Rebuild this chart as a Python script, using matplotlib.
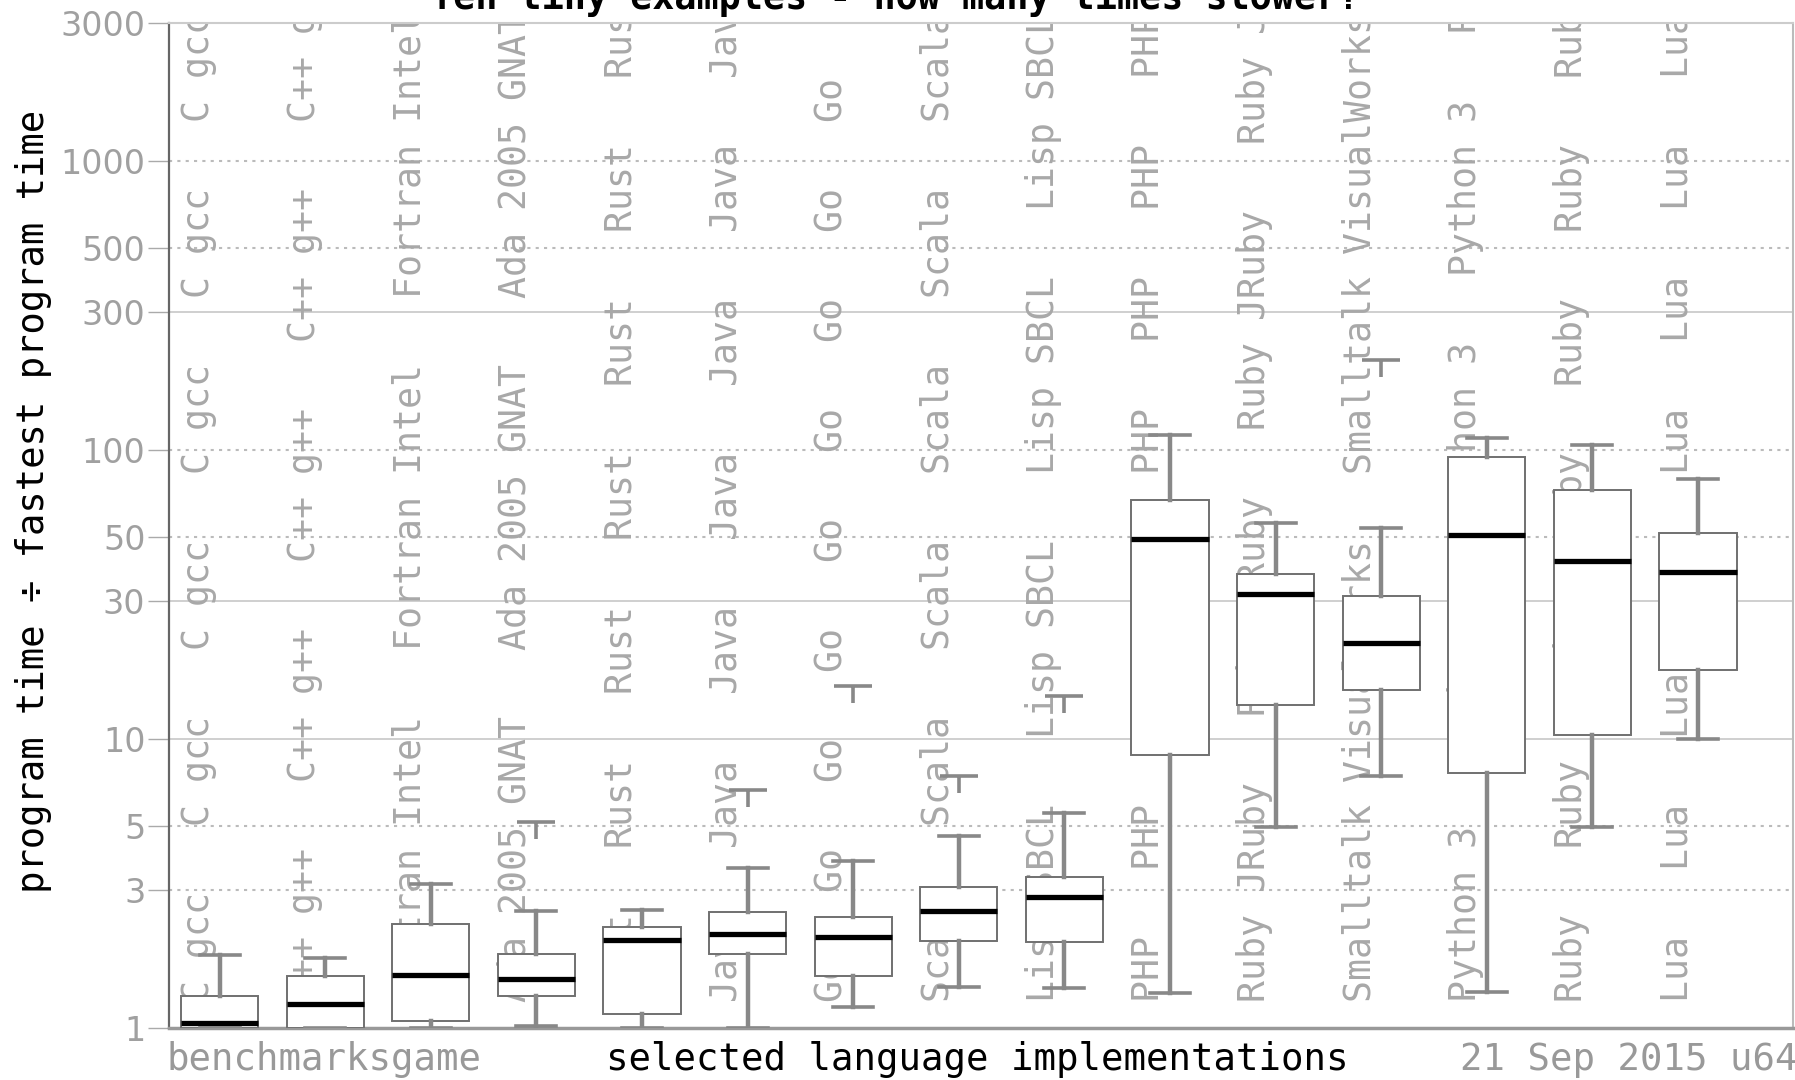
import matplotlib
matplotlib.use("Agg")
import matplotlib.pyplot as plt
import matplotlib.transforms as mtransforms
from matplotlib.path import Path
from matplotlib.ticker import NullLocator, FixedLocator, FixedFormatter

# language implementations, left to right
languages = ["C gcc", "C++ g++", "Fortran Intel", "Ada 2005 GNAT", "Rust", "Java", "Go",
             "Scala", "Lisp SBCL", "PHP", "Ruby JRuby", "Smalltalk VisualWorks",
             "Python 3", "Ruby", "Lua"]

# program time / fastest program time (box plot stats)
whislo = [1.0, 1.0, 1.0, 1.02, 1.0, 1.0, 1.18, 1.39, 1.38, 1.32, 4.96, 7.43, 1.33, 4.94, 10.0]
q1 = [1.0, 1.0, 1.06, 1.29, 1.12, 1.80, 1.51, 2.0, 1.98, 8.8, 13.1, 14.8, 7.6, 10.3, 17.3]
med = [1.04, 1.21, 1.53, 1.48, 2.02, 2.12, 2.07, 2.53, 2.84, 49.1, 31.7, 21.5, 50.7, 41.3, 37.9]
q3 = [1.29, 1.51, 2.29, 1.81, 2.23, 2.51, 2.43, 3.07, 3.33, 67.0, 37.2, 31.2, 94.9, 72.9, 51.8]
whishi = [1.79, 1.74, 3.16, 2.53, 2.56, 3.58, 3.77, 4.63, 5.55, 113.0, 55.8, 53.8, 110.0, 104.0, 79.6]
outliers = [[], [], [], [5.16], [], [6.66], [15.3], [7.43], [14.1], [], [], [205.0], [], [], []]

ytick_vals = [1, 3, 5, 10, 30, 50, 100, 300, 500, 1000, 3000]
solid_grid = [10, 30, 300]

mono = "DejaVu Sans Mono"
W, H = 1795, 1080

fig = plt.figure(figsize=(W / 100, H / 100), dpi=100)
ax = fig.add_axes([169 / W, 1 - 1028 / H, (1793 - 169) / W, (1028 - 23) / H])
ax.set_yscale("log")
ax.set_ylim(1, 3000)
ax.set_xlim(0.521, 15.9)

# grid lines
for v in ytick_vals[1:-1]:
    if v in solid_grid:
        ax.axhline(v, color="#cccccc", lw=1.3, zorder=0.5)
    else:
        ax.axhline(v, color="#bbbbbb", lw=1.5, ls=(0, (1.5, 2.5)), zorder=0.5)

# repeated background labels
trans = mtransforms.blended_transform_factory(ax.transData, ax.transAxes)
for i, name in enumerate(languages):
    s = (name + "   ") * 10
    ax.text(i + 1 - 0.2, 0.026, s, transform=trans, rotation=90, ha="center", va="bottom",
            family=mono, fontsize=26.3, color="#a8a8a8", clip_on=True, zorder=1)

# T-shaped outlier marker
tee = Path([(-1, 0), (1, 0), (0, 0), (0, -0.9)],
           [Path.MOVETO, Path.LINETO, Path.MOVETO, Path.LINETO])

stats = []
for i, name in enumerate(languages):
    stats.append({"label": name, "whislo": whislo[i], "q1": q1[i], "med": med[i],
                  "q3": q3[i], "whishi": whishi[i], "fliers": outliers[i]})

ax.bxp(stats, positions=list(range(1, len(languages) + 1)), widths=0.73,
       patch_artist=True, capwidths=0.38, zorder=3,
       boxprops=dict(facecolor="white", edgecolor="#707070", linewidth=1.4),
       medianprops=dict(color="black", linewidth=3.8),
       whiskerprops=dict(color="#888888", linewidth=3.2),
       capprops=dict(color="#888888", linewidth=2.6),
       flierprops=dict(marker=tee, markersize=27, markeredgecolor="#888888",
                       markerfacecolor="none", markeredgewidth=2.6, linestyle="none"))

ax.set_xticks([])
ax.yaxis.set_major_locator(FixedLocator(ytick_vals))
ax.yaxis.set_major_formatter(FixedFormatter([str(v) for v in ytick_vals]))
ax.yaxis.set_minor_locator(NullLocator())
ax.tick_params(axis="y", length=15, width=1, color="#aaaaaa", labelcolor="#a0a0a0",
               labelsize=24, pad=2)

ax.spines["left"].set_color("#666666")
ax.spines["left"].set_linewidth(1.6)
ax.spines["bottom"].set_color("#999999")
ax.spines["bottom"].set_linewidth(2.5)
ax.spines["top"].set_color("#cccccc")
ax.spines["top"].set_linewidth(1.5)
ax.spines["right"].set_color("#bbbbbb")
ax.spines["right"].set_linewidth(1.5)

# texts
fig.text(896 / W, 1 - 9 / H, "Ten tiny examples - how many times slower?", ha="center",
         va="baseline", family=mono, fontsize=26.5, fontweight="bold", color="black")
fig.text(34 / W, 1 - 501 / H, "program time \u00f7 fastest program time", rotation=90,
         ha="center", va="center", family=mono, fontsize=26.8, color="black")
fig.text(166 / W, 1 - 1059 / H, "benchmarksgame", ha="left", va="center",
         family=mono, fontsize=26.9, color="#999999")
fig.text(977 / W, 1 - 1059 / H, "selected language implementations", ha="center",
         va="center", family=mono, fontsize=26.9, color="black")
fig.text(1797 / W, 1 - 1059 / H, "21 Sep 2015 u64", ha="right", va="center",
         family=mono, fontsize=26.9, color="#999999")

fig.savefig("out.png", dpi=100)
